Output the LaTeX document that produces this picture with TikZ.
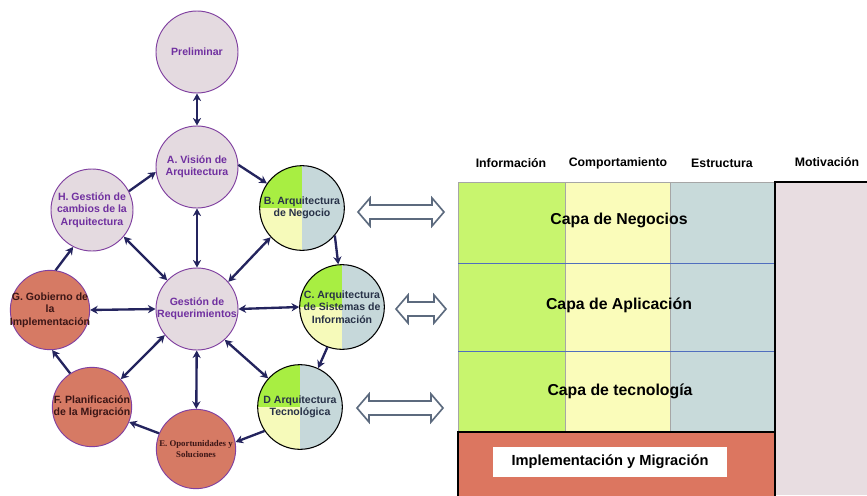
\documentclass[tikz,border=0pt]{standalone}
\usepackage{fontspec}
\setmainfont{Liberation Sans}
\newfontfamily\serifsmall{Liberation Serif}
\usetikzlibrary{arrows.meta}

\definecolor{phasefill}{RGB}{228,218,224}
\definecolor{phaseline}{RGB}{128,64,160}
\definecolor{phasetext}{RGB}{112,48,160}
\definecolor{salmon}{RGB}{214,122,100}
\definecolor{salmontext}{RGB}{60,22,22}
\definecolor{archgreen}{RGB}{168,238,66}
\definecolor{archyellow}{RGB}{246,250,186}
\definecolor{archblue}{RGB}{198,216,218}
\definecolor{archtext}{RGB}{40,50,72}
\definecolor{navy}{RGB}{36,36,94}
\definecolor{hollowline}{RGB}{92,106,126}
\definecolor{laygreen}{RGB}{200,245,110}
\definecolor{layyellow}{RGB}{250,252,186}
\definecolor{layblue}{RGB}{200,218,218}
\definecolor{layline}{RGB}{80,110,190}
\definecolor{implfill}{RGB}{220,118,96}
\definecolor{motivfill}{RGB}{232,221,225}

% hollow two-headed arrow: x from, x to, y
\newcommand{\hollowarrow}[3]{%
  \draw[hollowline,line width=1.4pt,fill=white,line join=miter]
    (#1,#3) -- ++(12,-14) -- ++(0,7) -- (#2-12,#3-7) -- ++(0,-7)
    -- (#2,#3) -- ++(-12,14) -- ++(0,-7) -- (#1+12,#3+7) -- ++(0,7) -- cycle;}

\begin{document}
\begin{tikzpicture}[x=.03cm,y=-.03cm,>={Stealth[length=6.5pt,width=7pt]},
  phase/.style={circle,draw=phaseline,line width=.8pt,fill=phasefill,
    minimum size=2.46cm,inner sep=0},
  implphase/.style={phase,fill=salmon,minimum size=2.38cm},
  archphase/.style={circle,draw=black,line width=.9pt,minimum size=2.54cm,inner sep=0,
    path picture={
      \fill[archgreen] (path picture bounding box.north west) rectangle (path picture bounding box.center);
      \fill[archyellow] (path picture bounding box.west) rectangle (path picture bounding box.south);
      \fill[archblue] (path picture bounding box.north) rectangle (path picture bounding box.south east);}},
  plbl/.style={font=\bfseries\fontsize{9}{10.5}\selectfont,align=center,text=phasetext},
  slbl/.style={plbl,text=salmontext},
  albl/.style={plbl,text=archtext},
  cyc/.style={navy,line width=2pt,->},
  req/.style={navy,line width=2pt,<->},
  head/.style={font=\bfseries\fontsize{10.5}{12}\selectfont},
  layer/.style={font=\bfseries\fontsize{13.5}{15}\selectfont}]
  \useasboundingbox (0,0) rectangle (867,495);

  % ADM cycle
  \node[phase,label={[plbl]center:Preliminar}] (prel) at (197,52) {};
  \node[phase,label={[plbl]center:A. Visión de\\Arquitectura}] (a) at (197,167) {};
  \node[archphase,label={[albl]center:B. Arquitectura\\de Negocio}] (b) at (302,208) {};
  \node[archphase,label={[albl]center:C. Arquitectura\\de Sistemas de\\Información}] (c) at (342,307) {};
  \node[archphase,label={[albl]center:D Arquitectura\\Tecnológica}] (d) at (300,407) {};
  \node[implphase,label={[slbl,font=\serifsmall\bfseries\fontsize{7.5}{10}\selectfont]center:E. Oportunidades y\\Soluciones}] (e) at (196,449) {};
  \node[implphase,label={[slbl]center:F. Planificación\\de la Migración}] (f) at (92,407) {};
  \node[implphase,label={[slbl]center:G. Gobierno de\\la\\Implementación}] (g) at (50,310) {};
  \node[phase,label={[plbl]center:H. Gestión de\\cambios de la\\Arquitectura}] (h) at (92,210) {};
  \node[phase,label={[plbl]center:Gestión de\\Requerimientos}] (r) at (197,309) {};

  \draw[req] (prel) -- (a);
  \draw[cyc] (a.3) -- (b.145);
  \draw[cyc] (b.-40) -- (c.95);
  \draw[cyc] (c.-110) -- (d.65);
  \draw[cyc] (d.-146) -- (e.10);
  \draw[cyc] (e.157) -- (f.-22);
  \draw[cyc] (f.123) -- (g.-87);
  \draw[cyc] (g.82) -- (h.-117);
  \draw[cyc] (h.27) -- (a.187);

  \draw[req] (r) -- (a);
  \draw[req] (r.136) -- (h.-40);
  \draw[req] (r.41) -- (b.-137);
  \draw[req] (r.west) -- (g.east);
  \draw[req] (r.east) -- (c.west);
  \draw[req] (r.-141) -- (f.44);
  \draw[req] (r) -- (e);
  \draw[req] (r.-48) -- (d.138);

  % links to the layers
  \hollowarrow{358}{444}{212}
  \hollowarrow{396}{446}{309}
  \hollowarrow{357}{443}{408}

  % layer table
  \fill[laygreen] (458,182) rectangle (565,432);
  \fill[layyellow] (565,182) rectangle (670,432);
  \fill[layblue] (670,182) rectangle (775,432);
  \draw[gray!70,line width=.6pt] (458,432) -- (458,182) -- (775,182);
  \draw[gray!70,line width=.5pt] (565,182) -- (565,432) (670,182) -- (670,432);
  \draw[layline,line width=.7pt] (458,263) -- (775,263) (458,351) -- (775,351);
  \fill[motivfill] (775,182) rectangle (867,495);
  \draw[line width=1pt] (867,182) -- (775,182) -- (775,495);
  \draw[fill=implfill,line width=1.2pt] (458,432) rectangle (775,497);
  \fill[white] (493,447) rectangle (727,477);

  \node[head] (hinfo) at (511,163) {Información};
  \node[head] (hcomp) at (618,163) {Comportamiento};
  \node[head] (hestr) at (722,163) {Estructura};
  \node[head] (hmotiv) at (827,162) {Motivación};

  \node[layer] (negocio) at (619,220) {Capa de Negocios};
  \node[layer] (aplic) at (619,305) {Capa de Aplicación};
  \node[layer] (tecno) at (620,391) {Capa de tecnología};
  \node[font=\bfseries\fontsize{12.5}{14}\selectfont] (impl) at (610,462) {Implementación y Migración};
\end{tikzpicture}
\end{document}
